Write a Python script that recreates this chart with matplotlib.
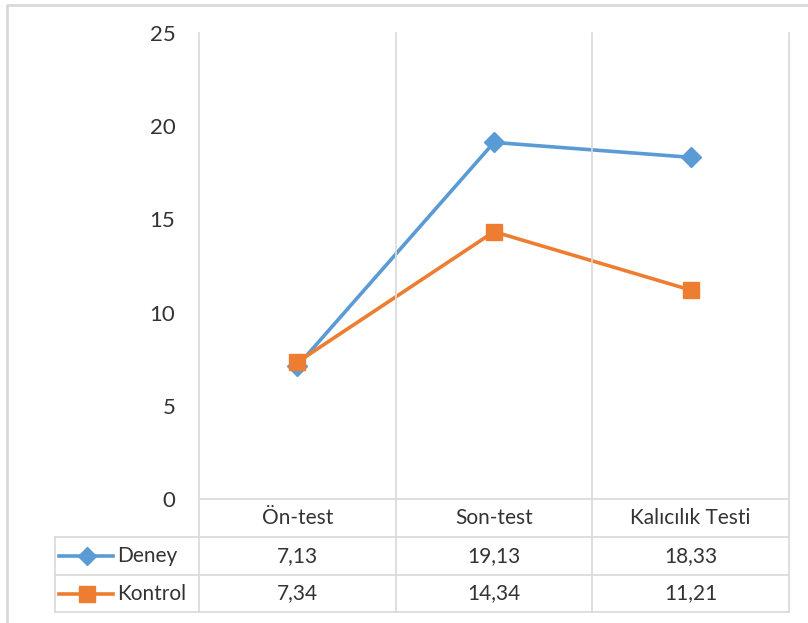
import matplotlib.pyplot as plt
from matplotlib.lines import Line2D
from matplotlib import font_manager

# data
categories = ['Ön-test', 'Son-test', 'Kalıcılık Testi']
deney = [7.13, 19.13, 18.33]
kontrol = [7.34, 14.34, 11.21]
y_ticks = [0, 5, 10, 15, 20, 25]

BLUE = '#5B9BD5'
ORANGE = '#ED7D31'
GRID = '#D9D9D9'
TXT = '#333333'

names = {f.name for f in font_manager.fontManager.ttflist}
font = 'Liberation Sans Narrow' if 'Liberation Sans Narrow' in names else 'Lato'
plt.rcParams['font.family'] = [font, 'DejaVu Sans']

W, H = 808, 623
fig = plt.figure(figsize=(W / 100, H / 100), dpi=100)


def fx(x):
    return x / W


def fy(y):
    return 1 - y / H


# plot area in pixels
left, right, top, bottom = 199, 789, 33, 499
ax = fig.add_axes([fx(left), fy(bottom), fx(right - left), (bottom - top) / H])

x = range(len(categories))
ax.plot(x, deney, color=BLUE, lw=2.6, marker='D', ms=10.5, zorder=3)
ax.plot(x, kontrol, color=ORANGE, lw=2.6, marker='s', ms=12, zorder=3)

ax.set_xlim(-0.5, len(categories) - 0.5)
ax.set_ylim(0, 25)
ax.set_yticks(y_ticks)
ax.set_yticklabels([str(t) for t in y_ticks], fontsize=16, color=TXT)
ax.tick_params(axis='y', length=0, pad=17)
ax.set_xticks([])
for s in ax.spines.values():
    s.set_visible(False)

# table geometry (pixels)
row_y = [499, 537, 575, 612]
tbl_left = 55
bounds = [i - 0.5 for i in range(len(categories) + 1)]
col_px = [left + (b + 0.5) * (right - left) / len(categories) for b in bounds]

# vertical lines: plot gridlines continuing through the table
for cx in col_px:
    fig.add_artist(Line2D([fx(cx), fx(cx)], [fy(top), fy(row_y[-1])], color=GRID, lw=1.2))
fig.add_artist(Line2D([fx(tbl_left), fx(tbl_left)], [fy(row_y[1]), fy(row_y[-1])], color=GRID, lw=1.2))
# horizontal lines
fig.add_artist(Line2D([fx(left), fx(right)], [fy(row_y[0]), fy(row_y[0])], color=GRID, lw=1.2))
for ry in row_y[1:]:
    fig.add_artist(Line2D([fx(tbl_left), fx(right)], [fy(ry), fy(ry)], color=GRID, lw=1.2))

# header and values
centers = [(col_px[i] + col_px[i + 1]) / 2 for i in range(len(categories))]
for cx, cat in zip(centers, categories):
    fig.text(fx(cx), fy((row_y[0] + row_y[1]) / 2), cat, ha='center', va='center', fontsize=15, color=TXT)

series = [('Deney', deney, BLUE, 'D', 9.5), ('Kontrol', kontrol, ORANGE, 's', 11)]
for r, (name, vals, col, mk, ms) in enumerate(series):
    yc = fy((row_y[r + 1] + row_y[r + 2]) / 2)
    fig.add_artist(Line2D([fx(59), fx(113)], [yc, yc], color=col, lw=2.6))
    fig.add_artist(Line2D([fx(87)], [yc], color=col, marker=mk, ms=ms, lw=0))
    fig.text(fx(117), yc, name, ha='left', va='center', fontsize=15, color=TXT)
    for cx, v in zip(centers, vals):
        fig.text(fx(cx), yc, f'{v:.2f}'.replace('.', ','), ha='center', va='center', fontsize=15, color=TXT)

# chart area border (partly outside the image)
fig.add_artist(Line2D([fx(7), fx(7), fx(W + 5)], [fy(H + 5), fy(5), fy(5)], color=GRID, lw=2))

fig.savefig('out.png', dpi=100)
